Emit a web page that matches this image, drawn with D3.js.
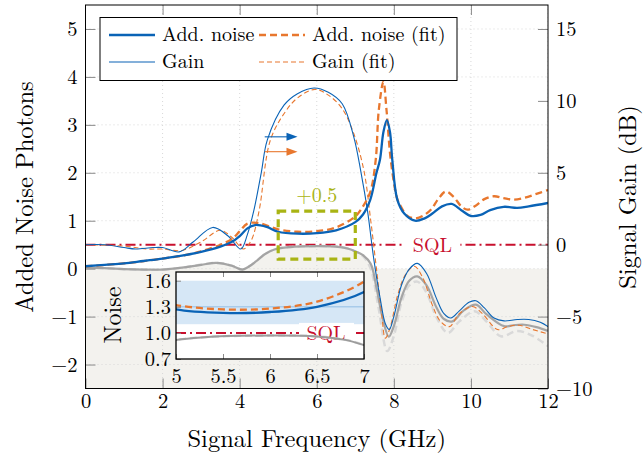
<!DOCTYPE html>
<html>
<head>
<meta charset="utf-8">
<script src="https://cdn.jsdelivr.net/npm/d3@7"></script>
<style>
body { margin: 0; background: #fff; }
</style>
</head>
<body>
<div class="chart"></div>
<script>
var W = 643, H = 457;
var plot = {left: 85.5, right: 548, top: 5, bottom: 388.5};
var serif = "'Latin Modern Roman', 'Liberation Serif', serif";

// added noise (photons)
var noiseFreq = [0, 0.5, 1, 1.5, 2, 2.5, 3, 3.5, 3.8, 4, 4.2, 4.4, 4.7, 5, 5.5, 6, 6.5, 7, 7.2, 7.39, 7.55, 7.64, 7.73, 7.82, 7.9, 7.96, 8.09, 8.27, 8.55, 8.8, 9.0, 9.25, 9.5, 9.75, 10.0, 10.25, 10.5, 10.85, 11.2, 11.5, 12];
var noiseVal  = [0.05, 0.08, 0.11, 0.16, 0.21, 0.27, 0.35, 0.46, 0.56, 0.68, 0.84, 0.91, 0.87, 0.77, 0.73, 0.74, 0.8, 0.97, 1.13, 1.44, 2.0, 2.27, 2.85, 3.1, 2.85, 2.27, 1.44, 1.15, 1.0, 1.05, 1.15, 1.3, 1.35, 1.22, 1.1, 1.12, 1.22, 1.29, 1.27, 1.3, 1.37];

var noiseFitFreq = [0, 1, 2, 2.5, 3, 3.5, 3.8, 4, 4.2, 4.5, 5, 5.5, 6, 6.5, 7, 7.2, 7.39, 7.53, 7.61, 7.73, 7.81, 7.92, 8.09, 8.18, 8.35, 8.55, 8.75, 8.96, 9.15, 9.35, 9.55, 9.75, 9.91, 10.1, 10.35, 10.6, 10.85, 11.1, 11.4, 11.7, 12];
var noiseFitVal  = [0.05, 0.11, 0.21, 0.27, 0.36, 0.5, 0.62, 0.78, 0.94, 0.95, 0.82, 0.77, 0.78, 0.86, 1.09, 1.3, 1.6, 2.27, 3.31, 3.9, 3.31, 2.27, 1.45, 1.3, 1.1, 1.05, 1.1, 1.23, 1.45, 1.61, 1.5, 1.3, 1.23, 1.3, 1.45, 1.51, 1.47, 1.44, 1.48, 1.56, 1.64];

// signal gain (dB)
var gainFreq = [0, 0.5, 1, 1.3, 1.75, 2, 2.43, 2.8, 3.3, 3.7, 4.03, 4.2, 4.37, 4.56, 4.72, 5.15, 5.5, 5.93, 6.3, 6.66, 6.96, 7.15, 7.32, 7.48, 7.65, 7.78, 7.88, 8.0, 8.2, 8.4, 8.61, 8.85, 9.1, 9.3, 9.48, 9.7, 9.95, 10.13, 10.35, 10.6, 10.86, 11.2, 11.5, 11.8, 12];
var gainVal  = [0, 0, -0.2, -0.3, -0.2, -0.2, -0.5, 0.2, 1.2, 0.6, -0.3, 0.7, 2.4, 5.0, 7.3, 9.7, 10.5, 10.9, 10.6, 9.8, 7.5, 5.0, 2.3, -1.0, -3.8, -5.5, -5.9, -5.0, -2.8, -1.7, -1.3, -2.0, -3.7, -4.8, -5.1, -4.6, -4.0, -3.9, -4.4, -5.1, -5.3, -5.2, -5.2, -5.4, -5.7];

var gainFitFreq = [0, 1, 1.6, 2, 2.5, 3, 3.5, 3.8, 4.1, 4.3, 4.5, 4.8, 5.2, 5.5, 5.95, 6.3, 6.65, 6.95, 7.22, 7.4, 7.55, 7.68, 7.78, 7.9, 8.1, 8.3, 8.53, 8.75, 9.0, 9.2, 9.44, 9.7, 10.04, 10.3, 10.69, 10.95, 11.25, 11.6, 12];
var gainFitVal  = [0, -0.1, -0.3, -0.3, -0.4, 0.2, 1.0, 0.5, -0.3, 0.3, 2.3, 7.3, 9.3, 10.2, 10.8, 10.4, 9.5, 7.8, 5.2, 1.7, -1.7, -4.7, -6.5, -5.8, -3.5, -2.1, -1.5, -2.3, -4.2, -5.3, -5.7, -4.8, -4.3, -4.8, -5.9, -5.7, -5.6, -5.9, -6.2];

// grey reference curves (photons)
var refFreq = [0, 0.5, 1, 1.5, 2, 2.5, 3, 3.4, 3.8, 4.07, 4.25, 4.42, 4.65, 4.9, 5.3, 6, 6.5, 6.8, 7.0, 7.2, 7.4, 7.55, 7.7, 7.87, 8.0, 8.2, 8.4, 8.61, 8.85, 9.1, 9.3, 9.52, 9.8, 10.13, 10.4, 10.86, 11.1, 11.38, 11.7, 12];
var refVal  = [0.02, 0.01, -0.01, -0.02, -0.02, 0.02, 0.08, 0.12, 0.06, -0.02, 0.05, 0.15, 0.3, 0.4, 0.45, 0.47, 0.46, 0.42, 0.36, 0.28, 0.1, -0.4, -1.0, -1.42, -1.2, -0.6, -0.25, -0.16, -0.35, -0.8, -1.05, -1.1, -0.88, -0.75, -0.95, -1.2, -1.18, -1.17, -1.22, -1.3];
var ref2Freq = [0, 0.5, 1, 1.5, 2, 2.5, 3, 3.4, 3.8, 4.07, 4.25, 4.42, 4.65, 4.9, 5.3, 6, 6.5, 6.8, 7.0, 7.2, 7.4, 7.6, 7.83, 8.0, 8.2, 8.4, 8.61, 8.85, 9.1, 9.4, 9.7, 10.1, 10.4, 10.78, 11.2, 11.6, 12];
var ref2Val  = [0.02, 0.01, -0.01, -0.02, -0.02, 0.02, 0.08, 0.12, 0.06, -0.02, 0.05, 0.15, 0.3, 0.4, 0.45, 0.47, 0.46, 0.42, 0.36, 0.26, 0.0, -0.8, -1.72, -1.4, -0.7, -0.35, -0.27, -0.5, -1.0, -1.34, -1.1, -0.89, -1.1, -1.41, -1.3, -1.4, -1.62];

var xTicks = [0, 2, 4, 6, 8, 10, 12];
var leftTicks = [-2, -1, 0, 1, 2, 3, 4, 5];
var rightTicks = [-10, -5, 0, 5, 10, 15];
var insetXTicks = [5, 5.5, 6, 6.5, 7];
var insetYTicks = [0.7, 1.0, 1.3, 1.6];
var sql = 0.5;
var offset = 0.5;
var band = [1.1, 1.3, 1.6];

var blue = "#0a63b6", orange = "#e8772e", red = "#c8102e", olive = "#a9b414";

var svg = d3.select(".chart").append("svg")
    .attr("width", W)
    .attr("height", H)
    .style("font-family", serif);

var x = d3.scaleLinear().domain([0, 12]).range([plot.left, plot.right]);
var yL = d3.scaleLinear().domain([-2.5, 5.5]).range([plot.bottom, plot.top]);
var yR = d3.scaleLinear().domain([-10, 50 / 3]).range([plot.bottom, plot.top]);

var smooth = d3.curveCatmullRom.alpha(0.5);

svg.append("clipPath").attr("id", "clipMain")
  .append("rect")
    .attr("x", plot.left).attr("y", plot.top)
    .attr("width", plot.right - plot.left).attr("height", plot.bottom - plot.top);

var g = svg.append("g").attr("clip-path", "url(#clipMain)");

// shaded region below the reference
var refPts = d3.zip(refFreq, refVal);
g.append("path")
  .datum(refPts)
  .attr("fill", "#f3f2ee")
  .attr("d", d3.area()
      .x(function(d) { return x(d[0]); })
      .y0(plot.bottom)
      .y1(function(d) { return yL(Math.max(0, d[1])); })
      .curve(smooth));

// grid
g.selectAll(".gx").data(xTicks).enter().append("line")
    .attr("x1", function(d) { return x(d); }).attr("x2", function(d) { return x(d); })
    .attr("y1", plot.top).attr("y2", plot.bottom)
    .attr("stroke", "#d8d8d8").attr("stroke-dasharray", "1,3");
g.selectAll(".gy").data(leftTicks).enter().append("line")
    .attr("y1", function(d) { return yL(d); }).attr("y2", function(d) { return yL(d); })
    .attr("x1", plot.left).attr("x2", plot.right)
    .attr("stroke", "#d8d8d8").attr("stroke-dasharray", "1,3");

// SQL line
g.append("line")
    .attr("x1", plot.left).attr("x2", plot.right)
    .attr("y1", yL(sql)).attr("y2", yL(sql))
    .attr("stroke", red).attr("stroke-width", 2)
    .attr("stroke-dasharray", "10,4,2,4");
var sqlX = x(9.0);
g.append("rect").attr("x", sqlX - 28).attr("y", yL(sql) - 10).attr("width", 56).attr("height", 20).attr("fill", "#fff");
g.append("text").attr("x", sqlX).attr("y", yL(sql) + 7)
    .attr("text-anchor", "middle").style("font-size", "20px").style("fill", red).text("SQL");

function lineL(yScale) {
  return d3.line()
    .x(function(d) { return x(d[0]); })
    .y(function(d) { return yScale(d[1]); })
    .curve(smooth);
}

// reference curves
g.append("path").datum(d3.zip(ref2Freq, ref2Val))
    .attr("fill", "none").attr("stroke", "#d9d9d9").attr("stroke-width", 2.5)
    .attr("stroke-dasharray", "7,4").attr("d", lineL(yL));
g.append("path").datum(refPts)
    .attr("fill", "none").attr("stroke", "#9c9c9c").attr("stroke-width", 2.2)
    .attr("stroke-opacity", 0.9).attr("d", lineL(yL));

// gain curves
g.append("path").datum(d3.zip(gainFitFreq, gainFitVal))
    .attr("fill", "none").attr("stroke", orange).attr("stroke-width", 1.1)
    .attr("stroke-dasharray", "5,3").attr("d", lineL(yR));
g.append("path").datum(d3.zip(gainFreq, gainVal))
    .attr("fill", "none").attr("stroke", blue).attr("stroke-width", 1.1)
    .attr("d", lineL(yR));

// noise curves
g.append("path").datum(d3.zip(noiseFitFreq, noiseFitVal))
    .attr("fill", "none").attr("stroke", orange).attr("stroke-width", 2.3)
    .attr("stroke-dasharray", "7,4").attr("d", lineL(yL));
g.append("path").datum(d3.zip(noiseFreq, noiseVal))
    .attr("fill", "none").attr("stroke", blue).attr("stroke-width", 2.3)
    .attr("d", lineL(yL));

// zoom box
g.append("rect")
    .attr("x", x(5)).attr("y", yL(1.2))
    .attr("width", x(7) - x(5)).attr("height", yL(0.2) - yL(1.2))
    .attr("fill", "none").attr("stroke", olive).attr("stroke-width", 3.2)
    .attr("stroke-dasharray", "8,5");
svg.append("text").attr("x", x(6)).attr("y", yL(1.2) - 9)
    .attr("text-anchor", "middle").style("font-size", "20px").style("fill", olive).text("+0.5");

// arrows pointing to the gain axis
var arrows = [[blue, 2.75], [orange, 2.44]];
arrows.forEach(function(a) {
  var yy = yL(a[1]);
  svg.append("line").attr("x1", x(4.65)).attr("x2", x(5.25)).attr("y1", yy).attr("y2", yy)
      .attr("stroke", a[0]).attr("stroke-width", 1.1);
  svg.append("path")
      .attr("d", "M" + (x(5.5)) + "," + yy + "L" + (x(5.5) - 11) + "," + (yy - 4) + "L" + (x(5.5) - 11) + "," + (yy + 4) + "Z")
      .attr("fill", a[0]);
});

// axes
function styleAxis(sel) {
  sel.attr("font-family", null);
  sel.select(".domain").remove();
  sel.selectAll(".tick line").attr("stroke", "#8a8a8a");
  sel.selectAll(".tick text").style("font-size", "20.5px").attr("fill", "#000");
}
svg.append("g").attr("transform", "translate(0," + plot.bottom + ")")
    .call(d3.axisBottom(x).tickValues(xTicks).tickSize(-10).tickPadding(5))
    .call(styleAxis);
svg.append("g").attr("transform", "translate(0," + plot.top + ")")
    .call(d3.axisTop(x).tickValues(xTicks.slice(1, -1)).tickSize(-10).tickFormat(""))
    .call(styleAxis);
svg.append("g").attr("transform", "translate(" + plot.left + ",0)")
    .call(d3.axisLeft(yL).tickValues(leftTicks).tickSize(-10).tickPadding(8))
    .call(styleAxis);
svg.append("g").attr("transform", "translate(" + plot.right + ",0)")
    .call(d3.axisRight(yR).tickValues(rightTicks).tickSize(-10).tickPadding(8))
    .call(styleAxis);

svg.append("rect")
    .attr("x", plot.left).attr("y", plot.top)
    .attr("width", plot.right - plot.left).attr("height", plot.bottom - plot.top)
    .attr("fill", "none").attr("stroke", "#000").attr("stroke-width", 1);

// axis titles
svg.append("text").attr("x", (plot.left + plot.right) / 2).attr("y", 447)
    .attr("text-anchor", "middle").style("font-size", "24.5px").text("Signal Frequency (GHz)");
svg.append("text").attr("transform", "translate(33," + 197 + ") rotate(-90)")
    .attr("text-anchor", "middle").style("font-size", "24.5px").text("Added Noise Photons");
svg.append("text").attr("transform", "translate(636," + 197 + ") rotate(-90)")
    .attr("text-anchor", "middle").style("font-size", "24.5px").text("Signal Gain (dB)");

// legend
var legend = svg.append("g");
legend.append("rect").attr("x", 100).attr("y", 17.5).attr("width", 357).attr("height", 63)
    .attr("fill", "#fff").attr("stroke", "#000");
var legendItems = [
  {label: "Add. noise", color: blue, w: 2.3, dash: null, col: 0, row: 0},
  {label: "Add. noise (fit)", color: orange, w: 2.3, dash: "7,4", col: 1, row: 0},
  {label: "Gain", color: blue, w: 1.1, dash: null, col: 0, row: 1},
  {label: "Gain (fit)", color: orange, w: 1.1, dash: "5,3", col: 1, row: 1}
];
legendItems.forEach(function(d) {
  var lx = 109 + d.col * 150, ly = 35 + d.row * 27;
  legend.append("line").attr("x1", lx).attr("x2", lx + 46).attr("y1", ly).attr("y2", ly)
      .attr("stroke", d.color).attr("stroke-width", d.w).attr("stroke-dasharray", d.dash);
  legend.append("text").attr("x", lx + 53).attr("y", ly + 6).style("font-size", "20px").text(d.label);
});

// inset
var ix = d3.scaleLinear().domain([5, 7]).range([176, 364]);
var iy = d3.scaleLinear().domain([0.7, 1.7]).range([359, 272]);
svg.append("clipPath").attr("id", "clipInset")
  .append("rect").attr("x", 176).attr("y", 272).attr("width", 188).attr("height", 87);
svg.append("rect").attr("x", 176).attr("y", 272).attr("width", 188).attr("height", 87).attr("fill", "#fff");
var gi = svg.append("g").attr("clip-path", "url(#clipInset)");
gi.append("rect").attr("x", 176).attr("width", 188)
    .attr("y", iy(band[2])).attr("height", iy(band[0]) - iy(band[2])).attr("fill", "#d6e7f6");
gi.append("line").attr("x1", 176).attr("x2", 364).attr("y1", iy(band[1])).attr("y2", iy(band[1]))
    .attr("stroke", "#a8cbea").attr("stroke-width", 1.5);
gi.append("line").attr("x1", 176).attr("x2", 364).attr("y1", iy(sql + offset)).attr("y2", iy(sql + offset))
    .attr("stroke", red).attr("stroke-width", 2).attr("stroke-dasharray", "10,4,2,4");
gi.append("rect").attr("x", 299).attr("y", iy(1) - 10).attr("width", 55).attr("height", 20).attr("fill", "#fff");
gi.append("text").attr("x", 326).attr("y", iy(1) + 7).attr("text-anchor", "middle")
    .style("font-size", "20px").style("fill", red).text("SQL");

function lineI(off) {
  return d3.line()
    .x(function(d) { return ix(d[0]); })
    .y(function(d) { return iy(d[1] + off); })
    .curve(smooth);
}
gi.append("path").datum(d3.zip(ref2Freq, ref2Val))
    .attr("fill", "none").attr("stroke", "#d9d9d9").attr("stroke-width", 2.5)
    .attr("stroke-dasharray", "7,4").attr("d", lineI(offset));
gi.append("path").datum(refPts)
    .attr("fill", "none").attr("stroke", "#9c9c9c").attr("stroke-width", 2).attr("d", lineI(offset));
gi.append("path").datum(d3.zip(noiseFitFreq, noiseFitVal))
    .attr("fill", "none").attr("stroke", orange).attr("stroke-width", 2.3)
    .attr("stroke-dasharray", "7,4").attr("d", lineI(offset));
gi.append("path").datum(d3.zip(noiseFreq, noiseVal))
    .attr("fill", "none").attr("stroke", blue).attr("stroke-width", 2.3).attr("d", lineI(offset));

svg.append("g").attr("transform", "translate(0,359)")
    .call(d3.axisBottom(ix).tickValues(insetXTicks).tickSize(-5).tickPadding(9).tickFormat(d3.format("")))
    .call(styleAxis);
svg.append("g").attr("transform", "translate(0,272)")
    .call(d3.axisTop(ix).tickValues(insetXTicks.slice(1, -1)).tickSize(-5).tickFormat(""))
    .call(styleAxis);
svg.append("g").attr("transform", "translate(176,0)")
    .call(d3.axisLeft(iy).tickValues(insetYTicks).tickSize(-5).tickPadding(5).tickFormat(d3.format(".1f")))
    .call(styleAxis);
svg.append("rect").attr("x", 176).attr("y", 272).attr("width", 188).attr("height", 87)
    .attr("fill", "none").attr("stroke", "#000").attr("stroke-width", 1.3);
svg.append("text").attr("transform", "translate(121,315) rotate(-90)")
    .attr("text-anchor", "middle").style("font-size", "24px").text("Noise");

svg.selectAll("text").style("font-family", serif);
</script>
</body>
</html>
